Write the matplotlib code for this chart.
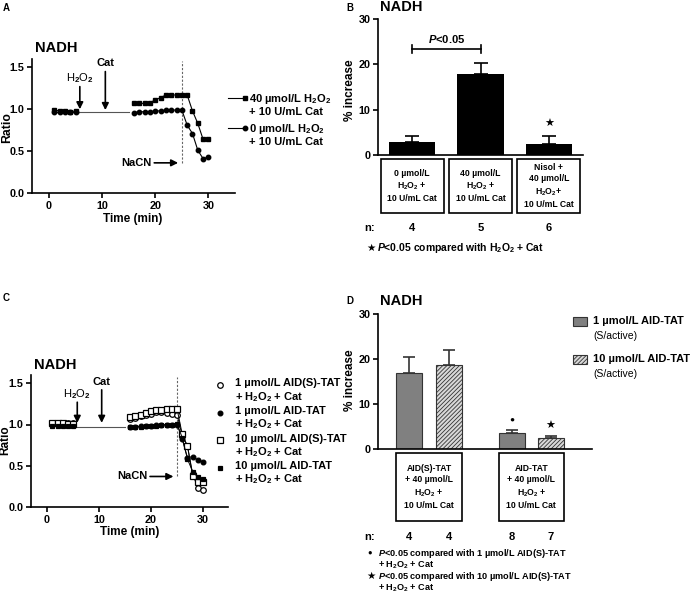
import matplotlib.pyplot as plt
from matplotlib.lines import Line2D
from matplotlib.patches import Rectangle
from matplotlib.transforms import Affine2D, blended_transform_factory

plt.rcParams["font.family"] = ["Liberation Sans", "DejaVu Sans"]
plt.rcParams["font.weight"] = "bold"
plt.rcParams["mathtext.fontset"] = "custom"
plt.rcParams["mathtext.rm"] = "Liberation Sans:bold"
plt.rcParams["mathtext.it"] = "Liberation Sans:italic:bold"
plt.rcParams["mathtext.bf"] = "Liberation Sans:bold"
plt.rcParams["mathtext.default"] = "rm"
plt.rcParams["hatch.linewidth"] = 0.6
plt.rcParams["hatch.color"] = "#444444"

H2O2 = "H$_2$O$_2$"

# ---- panel A: time course ----
t_pre = [1, 2, 3, 4, 5]
t_post = [16, 17, 18, 19, 20, 21, 22, 23, 24, 25, 26, 27, 28, 29, 30]
gap_t = [5, 15]
gap_ratio = [0.97, 0.97]

a_h2o2_pre = [0.99, 0.98, 0.98, 0.97, 0.98]
a_h2o2_post = [1.07, 1.07, 1.07, 1.08, 1.11, 1.14, 1.17, 1.17, 1.17, 1.17,
               1.17, 0.98, 0.83, 0.64, 0.64]
a_ctrl_pre = [0.97, 0.97, 0.97, 0.97, 0.97]
a_ctrl_post = [0.96, 0.97, 0.97, 0.97, 0.98, 0.98, 0.99, 0.99, 0.99, 0.99,
               0.81, 0.71, 0.51, 0.41, 0.43]
a_labels = ["40 µmol/L " + H2O2 + "\n+ 10 U/mL Cat",
            "0 µmol/L " + H2O2 + "\n+ 10 U/mL Cat"]

# ---- panel C: time course ----
c_s1_pre = [1.02, 1.02, 1.02, 1.02, 1.02]
c_s1_post = [1.07, 1.08, 1.10, 1.12, 1.13, 1.15, 1.15, 1.14, 1.13, 1.12,
             0.86, 0.74, 0.40, 0.23, 0.21]
c_a1_pre = [0.99, 0.99, 0.99, 0.99, 0.99]
c_a1_post = [0.97, 0.97, 0.98, 0.98, 0.98, 0.99, 0.99, 1.00, 1.00, 1.00,
             0.82, 0.60, 0.61, 0.57, 0.55]
c_s10_pre = [1.02, 1.02, 1.02, 1.01, 1.01]
c_s10_post = [1.09, 1.10, 1.12, 1.14, 1.16, 1.17, 1.18, 1.19, 1.19, 1.19,
              0.88, 0.74, 0.38, 0.30, 0.30]
c_a10_pre = [0.98, 0.98, 0.98, 0.98, 0.98]
c_a10_post = [0.97, 0.97, 0.97, 0.98, 0.98, 0.98, 0.99, 1.00, 1.00, 1.01,
              0.84, 0.58, 0.43, 0.36, 0.34]
c_labels = ["1 µmol/L AID(S)-TAT\n+ " + H2O2 + " + Cat",
            "1 µmol/L AID-TAT\n+ " + H2O2 + " + Cat",
            "10 µmol/L AID(S)-TAT\n+ " + H2O2 + " + Cat",
            "10 µmol/L AID-TAT\n+ " + H2O2 + " + Cat"]

# ---- panel B: bars ----
b_groups = ["0 µmol/L\n" + H2O2 + " +\n10 U/mL Cat",
            "40 µmol/L\n" + H2O2 + " +\n10 U/mL Cat",
            "Nisol +\n40 µmol/L\n" + H2O2 + "+\n10 U/mL Cat"]
b_mean = [2.9, 17.9, 2.4]
b_sem = [1.4, 2.5, 1.7]
b_n = [4, 5, 6]

# ---- panel D: bars ----
d_groups = ["AID(S)-TAT\n+ 40 µmol/L\n" + H2O2 + " +\n10 U/mL Cat",
            "AID-TAT\n+ 40 µmol/L\n" + H2O2 + " +\n10 U/mL Cat"]
d_mean = [16.8, 18.6, 3.6, 2.4]
d_sem = [3.7, 3.5, 0.6, 0.6]
d_n = [4, 4, 8, 7]
d_legend = ["1 µmol/L AID-TAT", "10 µmol/L AID-TAT"]
d_notes = ["$\\mathit{P}$<0.05 compared with 1 µmol/L AID(S)-TAT",
           "+ " + H2O2 + " + Cat",
           "$\\mathit{P}$<0.05 compared with 10 µmol/L AID(S)-TAT",
           "+ " + H2O2 + " + Cat"]

W, H = 694, 601
fig = plt.figure(figsize=(W / 100, H / 100), dpi=100)
px = Affine2D().scale(1 / W, -1 / H).translate(0, 1) + fig.transFigure


def axes_px(l, t, r, b):
    return fig.add_axes([l / W, 1 - b / H, (r - l) / W, (b - t) / H])


def style(ax):
    for s in ["top", "right"]:
        ax.spines[s].set_visible(False)
    for s in ["left", "bottom"]:
        ax.spines[s].set_linewidth(1.2)
    ax.tick_params(width=1.2, length=3.5, labelsize=7.8, pad=2)


def ptext(x, y, s, **kw):
    kw.setdefault("fontsize", 7.5)
    kw.setdefault("ha", "left")
    kw.setdefault("va", "center")
    fig.text(x, y, s, transform=px, **kw)


def arrow(ax, x, y0, y1):
    ax.annotate("", xy=(x, y1), xytext=(x, y0),
                arrowprops=dict(arrowstyle="-|>", lw=1.2, color="black",
                                mutation_scale=10, shrinkA=0, shrinkB=0))


def time_axes(ax, h2o2_arrow, cat_arrow, nacn_y):
    style(ax)
    ax.set_xlim(-3.2, 35)
    ax.set_ylim(0, 1.6)
    ax.set_xticks([0, 10, 20, 30])
    ax.set_yticks([0, 0.5, 1.0, 1.5])
    ax.set_yticklabels(["0.0", "0.5", "1.0", "1.5"])
    ax.plot(gap_t, gap_ratio, color="#555555", lw=0.8)
    x, y0, y1 = h2o2_arrow
    arrow(ax, x, y0, y1)
    ax.text(x, y0 + 0.1, H2O2, ha="center", va="center", fontsize=8,
            fontweight="normal")
    x, y0, y1 = cat_arrow
    arrow(ax, x, y0, y1)
    ax.text(x, y0 + 0.1, "Cat", ha="center", va="center", fontsize=8)
    ax.plot([25, 25], [nacn_y, 1.58], ls=(0, (2, 1.5)), color="#666666", lw=0.8)
    ax.text(19.3, nacn_y, "NaCN", ha="right", va="center", fontsize=8)
    ax.annotate("", xy=(24.3, nacn_y), xytext=(19.8, nacn_y),
                arrowprops=dict(arrowstyle="-|>", lw=1.2, color="black",
                                mutation_scale=10, shrinkA=0, shrinkB=0))


# ================= A =================
axA = axes_px(32, 59, 235, 193)
time_axes(axA, (5.8, 1.27, 1.0), (10.6, 1.45, 0.99), 0.36)
for pre, post, mk in [(a_h2o2_pre, a_h2o2_post, "s"), (a_ctrl_pre, a_ctrl_post, "o")]:
    axA.plot(t_pre, pre, marker=mk, ms=3.2, color="black", lw=0.8)
    axA.plot(t_post, post, marker=mk, ms=3.2, color="black", lw=0.8)
for i, (lab, mk) in enumerate(zip(a_labels, ["s", "o"])):
    y = 98 + i * 30
    fig.add_artist(Line2D([228, 245], [y, y], transform=px, color="black",
                          lw=0.8, marker=mk, ms=3.2, markevery=[1]))
    ptext(249, y - 6, lab, va="top", fontsize=8, linespacing=1.15)
ptext(35, 48, "NADH", fontsize=10.5)
ptext(7, 128, "Ratio", fontsize=8.8, ha="center", rotation=90)
ptext(133, 219, "Time (min)", fontsize=8.5, ha="center")
ptext(3, 8, "A", fontsize=7)

# ================= C =================
axC = axes_px(31, 375, 228, 507)
time_axes(axC, (5.8, 1.27, 1.02), (10.5, 1.42, 1.02), 0.37)
axC.set_xlim(-3.1, 34.8)
c_series = [(c_s1_pre, c_s1_post, "o", "white"),
            (c_a1_pre, c_a1_post, "o", "black"),
            (c_s10_pre, c_s10_post, "s", "white"),
            (c_a10_pre, c_a10_post, "s", "black")]
for pre, post, mk, fc in c_series:
    for tt, vv in [(t_pre, pre), (t_post, post)]:
        axC.plot(tt, vv, marker=mk, ms=4 if fc == "white" else 3.4, mfc=fc,
                 mec="black", mew=0.9, color="black", lw=0.7)
for i, (lab, (_, _, mk, fc)) in enumerate(zip(c_labels, c_series)):
    y = 385 + i * 27.5
    fig.add_artist(Line2D([220], [y], transform=px, ls="none", marker=mk,
                          ms=4 if fc == "white" else 3.4, mfc=fc, mec="black",
                          mew=0.9))
    ptext(235, y - 6.5, lab, va="top", fontsize=8, linespacing=1.15)
ptext(34, 365, "NADH", fontsize=10.5)
ptext(5, 440, "Ratio", fontsize=8.5, ha="center", rotation=90)
ptext(130, 532, "Time (min)", fontsize=8.5, ha="center")
ptext(3, 298, "C", fontsize=7)


def boxes(ax, centers, half, top, bottom, labels, fs):
    tr = blended_transform_factory(ax.transData, px)
    for c, lab in zip(centers, labels):
        ax.add_patch(Rectangle((c - half, top), 2 * half, bottom - top,
                               transform=tr, fill=False, lw=1.2,
                               edgecolor="black", clip_on=False))
        ax.text(c, (top + bottom) / 2, lab, transform=tr, ha="center",
                va="center", fontsize=fs, linespacing=1.35)


# ================= B =================
axB = axes_px(378, 19, 583, 155)
style(axB)
xb = list(range(len(b_mean)))
axB.bar(xb, b_mean, width=0.68, color="black")
axB.errorbar(xb, b_mean, yerr=[[0] * len(b_sem), b_sem], fmt="none",
             ecolor="black", elinewidth=1.2, capsize=5, capthick=1.2)
axB.set_xlim(-0.5, 2.5)
axB.set_ylim(0, 30)
axB.set_yticks([0, 10, 20, 30])
axB.set_xticks([])
axB.plot([0, 1], [23.3, 23.3], color="black", lw=1.2)
for xx in [0, 1]:
    axB.plot([xx, xx], [22.4, 24.2], color="black", lw=1.2)
axB.text(0.5, 25.6, "$\\mathit{P}$<0.05", ha="center", va="center", fontsize=8)
axB.text(2, b_mean[2] + b_sem[2] + 2.7, "★", ha="center", va="center", fontsize=8)
boxes(axB, xb, 0.46, 159, 213, b_groups, 6.2)
trB = blended_transform_factory(axB.transData, px)
for xx, n in zip(xb, b_n):
    axB.text(xx, 228, str(n), transform=trB, ha="center", va="center", fontsize=8)
ptext(364, 228, "n:", fontsize=8)
ptext(366, 248, "★", fontsize=7.5)
ptext(377, 248, "$\\mathit{P}$<0.05 compared with " + H2O2 + " + Cat", fontsize=7.5)
ptext(380, 7, "NADH", fontsize=10.5)
ptext(350, 90, "% increase", fontsize=8.5, ha="center", rotation=90)
ptext(346, 8, "B", fontsize=7)

# ================= D =================
axD = axes_px(378, 314, 592, 449)
style(axD)
xd = [0, 1, 2.575, 3.54]
d_face = ["#808080", "#d8d8d8", "#808080", "#d8d8d8"]
d_hatch = [None, "////////", None, "////////"]
for xx, m, fc, hh in zip(xd, d_mean, d_face, d_hatch):
    axD.bar(xx, m, width=0.65, color=fc, edgecolor="#333333", lw=0.8, hatch=hh)
axD.errorbar(xd, d_mean, yerr=[[0] * len(d_sem), d_sem], fmt="none",
             ecolor="#333333", elinewidth=1.2, capsize=4, capthick=1.2)
axD.set_xlim(-0.775, 4.575)
axD.set_ylim(0, 30)
axD.set_yticks([0, 10, 20, 30])
axD.set_xticks([])
axD.text(xd[2], d_mean[2] + d_sem[2] + 2.2, "●", ha="center", va="center", fontsize=6)
axD.text(xd[3], d_mean[3] + d_sem[3] + 2.1, "★", ha="center", va="center", fontsize=8)
trD = blended_transform_factory(axD.transData, px)
for i, lab in enumerate(d_groups):
    l, r = xd[2 * i] - 0.325, xd[2 * i + 1] + 0.325
    axD.add_patch(Rectangle((l, 453), r - l, 68, transform=trD, fill=False,
                            lw=1.2, edgecolor="black", clip_on=False))
    axD.text((l + r) / 2, 487, lab, transform=trD, ha="center", va="center",
             fontsize=6.2, linespacing=1.35)
for xx, n in zip(xd, d_n):
    axD.text(xx, 537, str(n), transform=trD, ha="center", va="center", fontsize=8)
ptext(364, 537, "n:", fontsize=8)
ptext(367, 553, "●", fontsize=5.5)
ptext(366, 576, "★", fontsize=7.5)
for yb, note in zip([556, 567.5, 579, 590.5], d_notes):
    ptext(378, yb, note, fontsize=6.6, va="baseline")
for i, lab in enumerate(d_legend):
    y = 321 + i * 38
    fig.add_artist(Rectangle((573, y + 4.5), 14, -9, transform=px,
                             facecolor=d_face[i], edgecolor="#333333", lw=0.8,
                             hatch=d_hatch[i]))
    ptext(593, y, lab, fontsize=8)
    ptext(593, y + 15, "(S/active)", fontsize=7.5, fontweight="normal")
ptext(380, 301, "NADH", fontsize=10.5)
ptext(350, 380, "% increase", fontsize=8.5, ha="center", rotation=90)
ptext(346, 301, "D", fontsize=7)

fig.savefig("out.png", dpi=100)
